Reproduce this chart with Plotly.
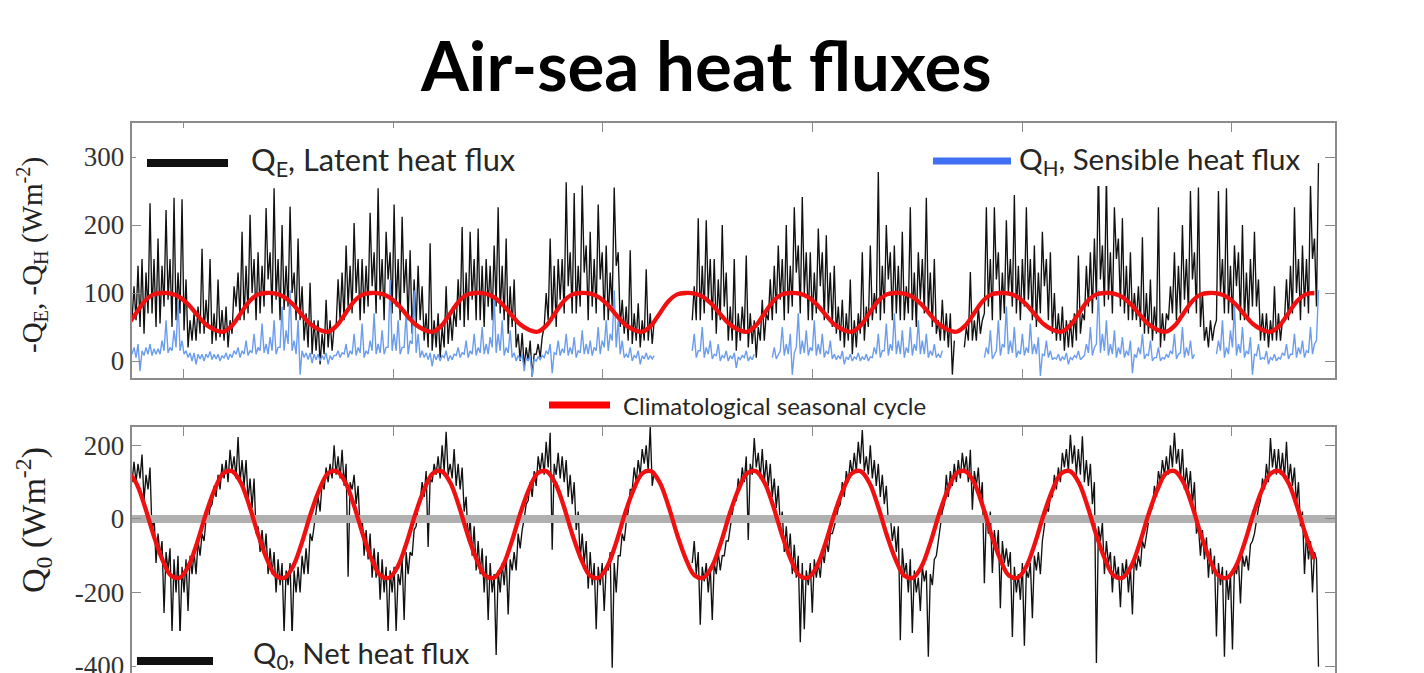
import numpy as np
import plotly.graph_objects as go

# ---------------- data ----------------
SAMPLE_START = 2003.504      # decimal year of the first sample
SAMPLE_STEP = 0.0191         # ~7-day sampling (decimal years)
N = None                     # missing data

# -Q_E, latent heat flux (W m-2)
latent_qe = [
    60, 110, 60, 140, 50, 150, 40, 130, 70, 232, 70, 150, 50, 180, 55, 140, 80, 222, 90, 150, 50, 240, 60, 130, 70, 238, 45, 120,
    20, 60, 30, 70, 30, 80, 40, 165, 40, 90, 50, 150, 25, 70, 30, 120, 35, 75, 30, 80, 20, 60, 40, 110,
    80, 130, 60, 190, 60, 140, 70, 215, 100, 150, 60, 160, 70, 140, 80, 225, 120, 160, 70, 254, 90, 150, 60, 200, 75, 140, 80, 227, 100, 130, 60, 180, 60, 110,
    30, 70, 20, 115, 10, 60, 15, 60, -5, 40, 10, 90, 20, 60, 15, 50,
    50, 120, 60, 130, 60, 170, 80, 140, 70, 203, 100, 150, 60, 150, 70, 140, 80, 218, 110, 160, 70, 254, 90, 150, 60, 190, 120, 160, 70, 230, 80, 150, 60, 212,
    100, 150, 60, 163, 40, 120, 50, 140, 60, 110,
    30, 70, 20, 173, 15, 60, 20, 70, 5, 50, 20, 110, 25, 70, 30, 75,
    50, 120, 60, 197, 50, 130, 60, 190, 90, 150, 60, 195, 60, 140, 50, 150, 80, 140, 60, 170, 80, 226, 70, 140, 60, 180, 40, 110, 50, 120,
    20, 40, 0, 41, -10, 20, 0, 30, -23, 10, 10, 25, 5, 35,
    50, 100, 60, 180, 60, 140, 50, 150, 90, 150, 70, 263, 110, 160, 70, 247, 70, 140, 80, 258, 130, 170, 60, 190, 80, 150, 70, 230, 120, 160, 60, 170, 60, 130, 80, 255, 140, 160, 50, 90,
    40, 80, 30, 163, 25, 70, 30, 85, 20, 60, 30, 135, 30, 70, 25, 60,
    N, N, N, N, N, N, N, N, N, N, N, N, N, N, N, N, N, N,
    60, 110, 60, 210, 60, 140, 70, 207, 90, 150, 60, 150, 40, 120, 60, 200, 80, 130,
    30, 80, 30, 150, 15, 70, 30, 80, 40, 155, 20, 70, 25, 60, 5, 50, 30, 90, 30, 70,
    60, 120, 60, 140, 70, 170, 90, 150, 60, 200, 70, 140, 80, 226, 130, 170, 70, 241, 100, 160, 60, 160, 60, 130, 70, 195, 110, 160, 60, 185, 70, 130, 50, 140,
    40, 80, 30, 90, 20, 70, 30, 120, 10, 60, 20, 70, 40, 160, 30, 80, 50, 170,
    60, 100, 70, 278, 60, 140, 70, 200, 120, 160, 60, 170, 70, 140, 60, 190,
    60, 110, 70, 226, 60, 130, 50, 160, 90, 150, 70, 240, 70, 130, 50, 150,
    40, 60, 30, 90, 30, 70, 20, 70, -20, 30, N, N, N, N, 20, 50, 30, 131, 30, 60, 30, 80, 40, 60,
    70, 226, 80, 150, 60, 226, 120, 160, 60, 130, 70, 207, 100, 150, 80, 244, 70, 140, 60, 150, 80, 226, 90, 150, 60, 170, 50, 130, 70, 190, 110, 150, 60, 160, 40, 100,
    30, 70, 30, 80, 15, 60, 20, 60, 20, 70, 30, 155, 40, 70,
    60, 140, 80, 160, 70, 180, 90, 285, 120, 170, 80, 275, 90, 160, 70, 226, 150, 180, 80, 210, 70, 140, 60, 160, 60, 100,
    60, 110, 50, 182, 40, 100, 40, 120, 30, 80, 40, 226, 20, 70, 30, 70,
    60, 110, 70, 160, 60, 140, 70, 200, 90, 150, 70, 250, 120, 160, 70, 255, 50, 100,
    30, 50, 20, 60, 30, 50,
    60, 250, 100, 150, 70, 254, 70, 140, 60, 170, 110, 160, 60, 200, 60, 130, 60, 150, 80, 190, 80, 120,
    30, 70, 30, 70, 20, 60, 30, 110, 30, 70, 30, 60,
    60, 120, 60, 140, 70, 226, 100, 150, 60, 170, 80, 150, 70, 260, 150, 180, 80, 291,
]

# -Q_H, sensible heat flux (W m-2)
sensible_qh = [
    10, 20, 5, 25, -15, 15, 8, 20, 10, 25, 8, 18, 10, 18, 10, 30, 15, 60, 12, 20, 15, 45, 20, 88, 15, 30, 10, 15,
    5, 12, 0, 12, -5, 10, 3, 10, 0, 10, 5, 14, 2, 10, 3, 10, 0, 8, 4, 12, 2, 10, 5, 15,
    10, 20, 5, 15, 10, 30, 8, 15, 12, 40, 10, 20, 15, 55, 12, 25, 10, 35, 15, 60, 10, 20, 20, 80, 15, 45, 25, 104, 15, 30, 10, 60, -20, 15,
    5, 12, 2, 12, -3, 10, 2, 10, 0, 8, 2, 12, -5, 8, 2, 8,
    8, 15, 5, 12, 10, 25, 5, 15, 10, 40, 8, 20, 12, 55, 5, 15, 10, 30, 15, 70, 10, 25, 12, 45, 10, 20, 20, 119, 15, 40, 15, 60, 10, 20,
    20, 70, 10, 30, 25, 104, 12, 40, 5, 15,
    5, 12, 2, 12, -8, 10, 2, 10, 0, 8, 5, 15, 0, 8, 2, 10,
    8, 20, 5, 12, 10, 30, 5, 15, 10, 40, 8, 20, 12, 50, 10, 25, 10, 35, 20, 94, 12, 40, 15, 60, 8, 20, 12, 45, 5, 12,
    0, 8, 2, 10, -15, 5, 0, 8, -23, 3, 0, 6, 2, 8,
    5, 15, 10, 25, -18, 12, 10, 30, 8, 18, 12, 40, 8, 20, 10, 35, 5, 15, 12, 45, 10, 25, 10, 30, 8, 20, 15, 50, 10, 30, 20, 60, 15, 40, 30, 104, 20, 60, 10, 30,
    5, 10, 5, 20, 0, 8, 5, 15, -5, 8, 3, 12, 2, 8, 3, 8,
    N, N, N, N, N, N, N, N, N, N, N, N, N, N, N, N, N, N,
    15, 40, 5, 15, 15, 50, 5, 20, 10, 30, 3, 10, 8, 25, 0, 8, 5, 15,
    0, 8, 3, 12, -10, 6, 2, 8, 5, 15, 0, 6, 2, 10, N, N, N, N, N, N,
    N, N, 5, 20, 3, 10, 15, 50, 8, 25, 10, 40, -20, 12, 20, 70, 10, 30, 12, 45, 8, 20, 15, 60, 8, 25, 10, 40, 5, 15, 10, 30, 3, 10,
    2, 8, 3, 15, -5, 6, 2, 10, 0, 6, 3, 12, 0, 6, 2, 10, 0, 6,
    5, 20, 10, 40, 5, 15, 15, 55, 8, 25, 15, 70, 10, 30, 10, 45,
    5, 20, 12, 50, 8, 25, 15, 60, 10, 30, 10, 40, 5, 15, 8, 25,
    5, 10, 5, 15, N, N, N, N, N, N, N, N, N, N, N, N, N, N, N, N, N, N, N, N,
    5, 20, 10, 45, 3, 10, 15, 60, 8, 25, 20, 80, 10, 30, 12, 50, 5, 15, 10, 40, 8, 20, 12, 55, 10, 25, 10, 35, -22, 10, 8, 30, 5, 15, 2, 5,
    3, 10, 0, 6, 2, 12, -5, 5, 2, 8, 5, 15, 2, 5,
    8, 25, 12, 50, 8, 20, 25, 104, 12, 40, 15, 60, 8, 25, 10, 45, 5, 20, 10, 35, 5, 15, 8, 30, -18, 10,
    5, 20, 10, 40, 3, 10, 8, 30, 0, 5, 5, 20, 0, 5, 3, 10,
    5, 15, 10, 40, 3, 10, 12, 50, 5, 20, 8, 30, 3, 10, N, N, N, N,
    N, N, N, N, N, N,
    10, 30, 15, 60, 5, 20, 10, 45, 20, 80, 8, 25, 12, 50, 5, 15, 10, 35, -20, 10, 8, 25,
    2, 5, 3, 15, -5, 5, 2, 10, 0, 5, 3, 12,
    8, 25, 3, 10, 10, 40, 5, 20, 10, 30, 5, 15, 12, 50, 10, 25, 30, 104,
]

# Q_0, net heat flux (W m-2)
net_q0 = [
    100, 155, 100, 150, 110, 175, 50, 120, 80, 140,
    -40, 10, -120, -40, -100, -60, -256, -90, -140, -80, -310, -110, -200, -100,
    -320, -130, -200, -110, -250, -100, -150, -90, -150, -60, -100, -40, -60, 0,
    -10, 30, 40, 90, 60, 120, 80, 150, 110, 160, 100, 188, 130, 170, 110, 223, 100, 160, 90, 160, 50, 110, 30, 110,
    -40, -20, -90, -30, -100, -40, -150, -80, -150, -90, -200, -110, -180, -120, -310, -140,
    -180, -120, -320, -140, -200, -130, -200, -100, -150, -80, -150, -40, -60, -20,
    20, 60, 20, 100, 80, 140, 100, 150, 110, 200, 120, 170, 110, 188, 90, 150, -157, 100, 80, 120, 40, 90,
    -30, 10, -100, -30, -110, -40, -160, -80, -160, -90, -220, -110, -200, -130, -310, -140,
    -200, -130, -305, -150, -180, -110, -275, -90, -150, -90, -100, -30, -20, 40,
    50, 100, 60, 130, -76, 110, 100, 150, 120, 170, 110, 200, 130, 237, 120, 150, 110, 190, 90, 150, 80, 140,
    20, 60, -60, 0, -100, -20, -140, -60, -150, -80, -200, -100, -275, -120, -200, -150, -370, -140,
    -200, -120, -180, -100, -260, -110, -140, -90, -140, -40, -80, -30,
    0, 40, 50, 100, 60, 130, 90, 170, 130, 180, 120, 210, 140, 234, -84, 150, 120, 180, 110, 170, 100, 160, 60, 120, 40, 100,
    -30, 20, -110, -40, -120, -60, -190, -90, -180, -120, -300, -130, -180, -120,
    -250, -130, -140, -90, -405, -120, -200, -100, -100, -40, -60, -10,
    20, 80, 80, 140, 100, 160, 120, 190, 150, 200, 130, 250, 90, 130,
    N, N, N, N, N, N, N, N, N, N, N, N, N, N, N, N, N, N,
    -120, -60, -150, -90, -288, -130, -170, -120, -200, -130, -275, -120, -150, -90, -140, -100, -100, -60, -60, -20,
    10, 50, 50, 110, 80, 140, 100, 170, -57, 150, 120, 220, 140, 180, 110, 190, 100, 160, 90, 150, 60, 110, 30, 90,
    -20, 20, -90, -20, -100, -40, -150, -70, -160, -100, -335, -120, -300, -140, -180, -120, -255, -110, -160, -120, -160, -90, -120, -60, -90, -40, -40, -20,
    0, 30, 40, 100, 60, 130, 100, 160, 120, 180, 130, 210, 150, 242, 130, 170, 120, 200, 110, 160, 90, 150, 60, 120, 40, 90, -10, 10,
    -60, -20, -90, -20, -330, -80, -150, -120, -200, -110, -310, -140, -200, -160, -250, -130, -170, -140, -375, -150, -180, -110, -100, -60,
    -20, 20, 40, 120, 60, 130, 90, 150, 100, 160, 110, 180, 130, 170, 100, 188, 25, 130, 90, 140, 50, 100,
    -175, 20, -40, 20, -147, -30, -90, -30, -243, -60, -120, -80, -130, -90,
    -321, -130, -200, -150, -220, -120, -345, -140, -160, -120, -270, -100, -140, -90, -150, -60,
    -20, 30, 20, 60, 60, 120, 80, 140, 100, 180, 140, 190, 130, 229, 150, 200, 120, 190, 120, 225, 100, 160, 90, 150, 40, 100,
    -392, -20, -60, -10, -150, -60, -120, -90, -200, -100, -160, -130, -240, -120, -160, -110, -200, -130, -260, -100, -140, -100, -130, -60, -80, -40,
    -10, 20, 30, 90, 60, 130, 100, 160, 120, 170, 120, 200, 140, 234, 150, 190, 110, 190, 80, 140, 80, 130, 40, 100,
    -40, -20, -100, -30, -110, -50, -160, -80, -150, -100, -320, -120, -180, -130, -375, -140, -220, -150, -355, -130, -150, -110, -230, -100, -130, -100, -140, -70, -60, -40,
    0, 30, 50, 110, 80, 150, 100, 220, 140, 190, 120, 190, 120, 180, 110, 210, 100, 150, 90, 140, 40, 100,
    -20, 20, -150, -40, -110, -60, -200, -90, -110, -402,
]

# climatological seasonal cycle (monthly, Jan..Dec)
clim_qe_monthly = [83, 68, 54, 46, 43, 52, 70, 88, 98, 100, 99, 94]
clim_q0_monthly = [-129, -65, 13, 79, 124, 130, 99, 35, -43, -109, -154, -160]
clim_years = list(range(2003, 2015))
CLIM_START, CLIM_END = 2003.45, 2014.80

year_ticks = [2004, 2006, 2008, 2010, 2012, 2014]
q0_ticks = [-400, -200, 0, 200]
q0_tick_text = ["-400", "-200", "0", "200"]

# ---------------- build series ----------------
t_qe = SAMPLE_START + SAMPLE_STEP * np.arange(len(latent_qe))
t_qh = SAMPLE_START + SAMPLE_STEP * np.arange(len(sensible_qh))
t_q0 = SAMPLE_START + SAMPLE_STEP * np.arange(len(net_q0))

clim_t, clim_qe, clim_q0 = [], [], []
for yr in clim_years:
    for m in range(12):
        t = yr + (m + 0.5) / 12.0
        if CLIM_START <= t <= CLIM_END:
            clim_t.append(t)
            clim_qe.append(clim_qe_monthly[m])
            clim_q0.append(clim_q0_monthly[m])

X_MIN, X_MAX = 2003.499, 2014.988

# ---------------- figure ----------------
W, H = 1424, 673
def px(p):
    return p / W
def py(p):
    return 1 - p / H

BLACK = "#111111"
BLUE_DATA = "#6a9cf0"
BLUE_KEY = "#3f6ff2"
RED = "#f01010"
FRAME = "#8a8a8a"
TEXT = "#262626"
SERIF = "Liberation Serif"
SANS = "Lato"

fig = go.Figure()
fig.add_trace(go.Scatter(x=t_qe, y=latent_qe, mode="lines", xaxis="x", yaxis="y",
                         line=dict(color=BLACK, width=1.35), connectgaps=False, showlegend=False))
fig.add_trace(go.Scatter(x=t_qh, y=sensible_qh, mode="lines", xaxis="x", yaxis="y",
                         line=dict(color=BLUE_DATA, width=1.4), connectgaps=False, showlegend=False))
fig.add_trace(go.Scatter(x=clim_t, y=clim_qe, mode="lines", xaxis="x", yaxis="y",
                         line=dict(color=RED, width=4.3, shape="spline"), showlegend=False))

fig.add_trace(go.Scatter(x=t_q0, y=net_q0, mode="lines", xaxis="x2", yaxis="y2",
                         line=dict(color=BLACK, width=1.35), connectgaps=False, showlegend=False))
fig.add_trace(go.Scatter(x=[X_MIN, X_MAX], y=[0, 0], mode="lines", xaxis="x2", yaxis="y2",
                         line=dict(color="#b0b0b0", width=8), showlegend=False))
fig.add_trace(go.Scatter(x=clim_t, y=clim_q0, mode="lines", xaxis="x2", yaxis="y2",
                         line=dict(color=RED, width=4.3, shape="spline"), showlegend=False))

xdom = [px(131.5), px(1335)]
common_x = dict(range=[X_MIN, X_MAX], domain=xdom, showgrid=False, zeroline=False,
                showline=True, linecolor=FRAME, linewidth=1.6, automargin=False,
                ticks="inside", ticklen=9, tickwidth=1.3, tickcolor=FRAME,
                tickvals=year_ticks, showticklabels=False)
common_y = dict(showgrid=False, zeroline=False, showline=True, linecolor=FRAME, linewidth=1.6,
                ticks="inside", ticklen=10, tickwidth=1.3, tickcolor=FRAME, mirror="ticks",
                automargin=False,
                tickfont=dict(family=SERIF, size=27, color="#333333"))

fig.update_layout(
    width=W, height=H, margin=dict(l=0, r=0, t=0, b=0, autoexpand=False),
    paper_bgcolor="white", plot_bgcolor="white",
    xaxis=dict(**common_x, anchor="y", mirror="ticks"),
    yaxis=dict(**common_y, domain=[py(378), py(123)], range=[-25, 350],
               tickvals=[0, 100, 200, 300], anchor="x"),
    xaxis2=dict(**common_x, anchor="y2", side="top"),
    yaxis2=dict(**common_y, domain=[0, py(427)], range=[-419, 250],
                tickvals=q0_ticks, ticktext=q0_tick_text, anchor="x2",
                ticklabeloverflow="allow"),
)

shapes = []
# white boxes behind legend labels
for (x0, x1, y0, y1) in [(136, 530, 128, 186), (925, 1312, 132, 186), (136, 488, 631, 673)]:
    shapes.append(dict(type="rect", xref="paper", yref="paper", layer="above",
                       x0=px(x0), x1=px(x1), y0=py(y1), y1=py(y0),
                       fillcolor="white", line=dict(width=0)))
# legend keys
for (x0, x1, yc, col, w) in [(147, 228, 163, BLACK, 8), (933, 1011, 161, BLUE_KEY, 7),
                             (549, 610, 405, "#ff0000", 7), (137, 213, 661, BLACK, 8)]:
    shapes.append(dict(type="line", xref="paper", yref="paper", layer="above",
                       x0=px(x0), x1=px(x1), y0=py(yc), y1=py(yc),
                       line=dict(color=col, width=w)))
fig.update_layout(shapes=shapes)

ann = []
ann.append(dict(text="<b>Air-sea heat fluxes</b>", x=px(706), y=py(64), xref="paper", yref="paper",
                xanchor="center", yanchor="middle", showarrow=False,
                font=dict(family=SANS, size=69, color="black")))
for (txt, x, y, size) in [("Q<sub>E</sub>, Latent heat flux", 249, 161, 30.8),
                          ("Q<sub>H</sub>, Sensible heat flux", 1017, 160, 29.5),
                          ("Climatological seasonal cycle", 621, 405, 24),
                          ("Q<sub>0</sub>, Net heat flux", 251, 654, 29.2)]:
    ann.append(dict(text=txt, x=px(x), y=py(y), xref="paper", yref="paper",
                    xanchor="left", yanchor="middle", showarrow=False,
                    font=dict(family=SANS, size=size, color=TEXT)))
ann.append(dict(text="-Q<sub>E</sub>, -Q<sub>H</sub> (Wm<sup>-2</sup>)", x=px(32), y=py(255),
                xref="paper", yref="paper", xanchor="center", yanchor="middle", textangle=-90,
                showarrow=False, font=dict(family=SERIF, size=29, color="#222222")))
ann.append(dict(text="Q<sub>0</sub> (Wm<sup>-2</sup>)", x=px(33), y=py(520),
                xref="paper", yref="paper", xanchor="center", yanchor="middle", textangle=-90,
                showarrow=False, font=dict(family=SERIF, size=34, color="#222222")))
fig.update_layout(annotations=ann)

fig.write_html("out.html")
